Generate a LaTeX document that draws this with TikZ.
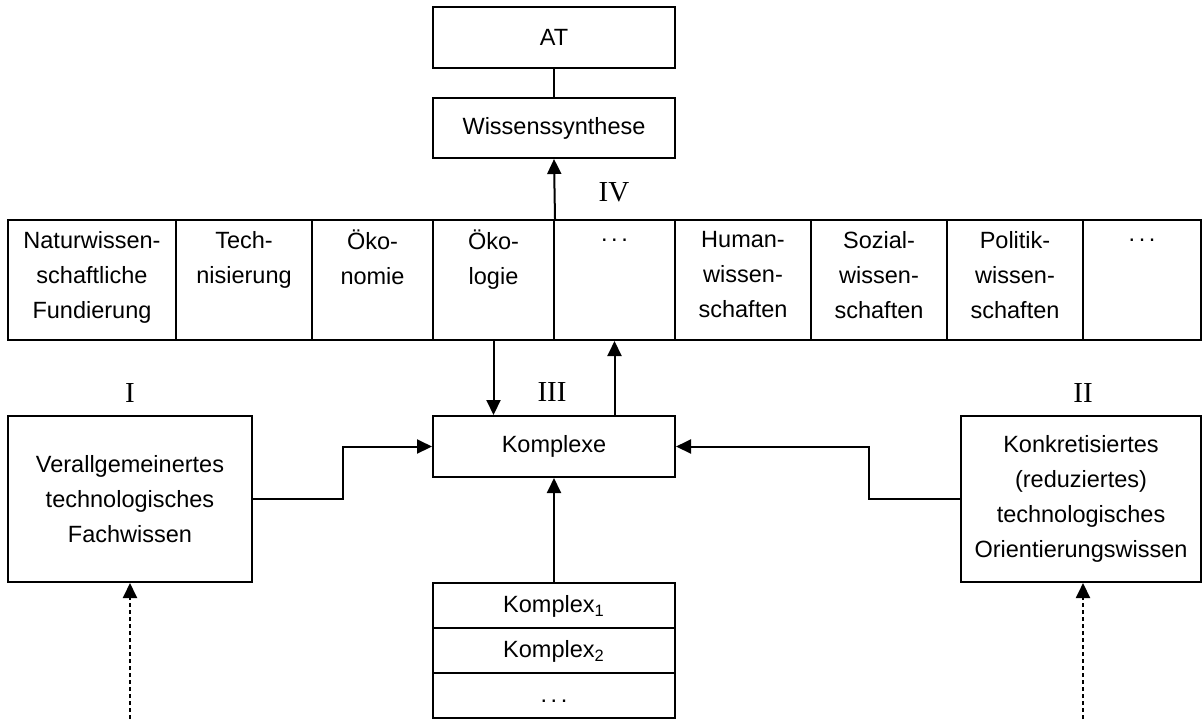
\documentclass[tikz,border=0pt]{standalone}
\usepackage{fontspec}
\setmainfont{Liberation Sans}
\newfontfamily\romfont{Liberation Serif}
\usetikzlibrary{arrows.meta,positioning,calc}
\tikzset{
  box/.style={draw=black,line width=1pt,inner sep=2pt,align=center,
    font=\fontsize{11.75}{17.5}\selectfont},
  cell/.style={box,minimum height=60pt,
    execute at begin node=\strut,execute at end node=\strut},
  stack/.style={box,minimum width=121pt,minimum height=22.5pt,
    execute at begin node=\strut},
  roman/.style={font=\romfont\fontsize{14.5}{16}\selectfont,inner sep=0pt},
  arr/.style={-{Triangle[length=7.5pt,width=7pt]},line width=1pt},
  dotarr/.style={arr,dash pattern=on 2pt off 1.5pt},
}
\newcommand{\pkte}{.\kern1.8pt.\kern1.8pt.}

\begin{document}
\begin{tikzpicture}[x=0.5pt,y=-0.5pt]
\useasboundingbox (0,0) rectangle (1202,719);
% top: AT and synthesis
\node[box,minimum width=121pt,minimum height=30.5pt] (atbox) at (554,37.5) {AT};
\node[box,minimum width=121pt,minimum height=30pt] (syn) at (554,128) {Wissenssynthese};
\draw[line width=1pt] (atbox) -- (syn);
% row of disciplines
\node[cell,minimum width=84pt] (c1) at (92,280) {Naturwissen-\\schaftliche\\Fundierung};
\node[cell,minimum width=68pt] (c2) at (244,280) {Tech-\\nisierung\\};
\node[cell,minimum width=60.5pt] (c3) at (372.5,280) {Öko-\\nomie\\};
\node[cell,minimum width=60.5pt] (c4) at (493.5,280) {Öko-\\logie\\};
\node[cell,minimum width=60.5pt] (c5) at (614.5,280) {\pkte\\\strut\\};
\node[cell,minimum width=68pt] (c6) at (743,280) {Human-\\wissen-\\schaften};
\node[cell,minimum width=68pt] (c7) at (879,280) {Sozial-\\wissen-\\schaften};
\node[cell,minimum width=68pt] (c8) at (1015,280) {Politik-\\wissen-\\schaften};
\node[cell,minimum width=59pt] (c9) at (1142,280) {\pkte\\\strut\\};
\node[roman] (l4) at (614,192) {IV};
\draw[arr] (c4.north east) -- (syn.south);
% middle: complexes
\node[box,minimum width=121pt,minimum height=30.5pt] (kx) at (554,446.5) {Komplexe};
\node[roman] (l3) at (552,392) {III};
\draw[arr] (c4.south) -- (c4.south |- kx.north);
\draw[arr] (kx.north -| c5) -- (c5.south);
% left and right knowledge
\node[box,minimum width=122pt,minimum height=83pt] (lbox) at (130,499)
  {Verallgemeinertes\\technologisches\\Fachwissen};
\node[box,minimum width=120pt,minimum height=83pt] (rbox) at (1081,499)
  {Konkretisiertes\\(reduziertes)\\technologisches\\Orientierungswissen};
\node[roman] (l1) at (130,393) {I};
\node[roman] (l2) at (1083,393) {II};
\draw[arr] (lbox.east) -- ++(90,0) |- (kx.west);
\draw[arr] (rbox.west) -- ++(-91,0) |- (kx.east);
% bottom: stack of single complexes
\node[stack] (k1) at (554,605.5) {Komplex\textsubscript{1}};
\node[stack] (k2) at (554,650.5) {Komplex\textsubscript{2}};
\node[stack] (k3) at (554,695.5) {\pkte};
\draw[arr] (k1.north) -- (kx.south);
% dotted inputs from below
\coordinate (srcL) at (130,719);
\coordinate (srcR) at (1083,719);
\draw[dotarr] (srcL) -- (lbox.south);
\draw[dotarr] (srcR) -- (srcR |- rbox.south);
\end{tikzpicture}
\end{document}
